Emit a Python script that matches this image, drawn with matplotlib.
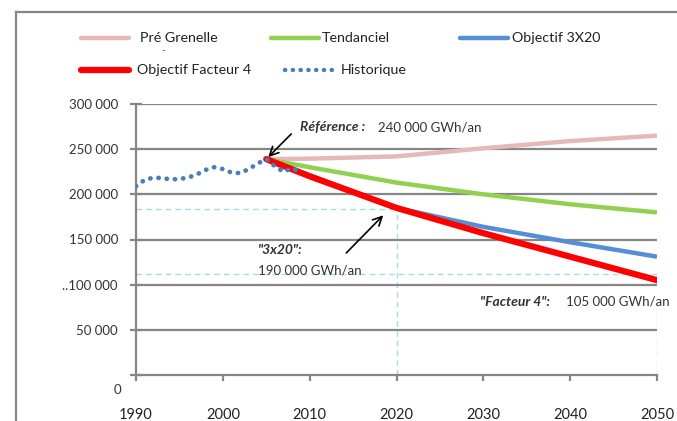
import matplotlib
matplotlib.use('Agg')
import matplotlib.pyplot as plt
from matplotlib.lines import Line2D

plt.rcParams['font.family'] = ['Lato', 'DejaVu Sans']

# historique (GWh/an)
hist_years = list(range(1990, 2010))
hist_vals = [209000, 216000, 218500, 218000, 216500, 217000, 218500, 222000, 227000, 230000,
             228000, 224000, 223500, 228000, 234000, 239000, 231000, 225000, 229000, 224000]

# scenarios
proj_years = [2005, 2010, 2020, 2030, 2040, 2050]
pre_grenelle = [239000, 239500, 242000, 251000, 259000, 265000]
tendanciel = [239000, 230000, 213000, 200000, 189000, 180000]
obj_3x20 = [239000, 221000, 185000, 164000, 147000, 131000]
facteur4 = [239000, 220000, 185000, 157000, 131000, 105000]

yticks = [0, 50000, 100000, 150000, 200000, 250000, 300000]
xticks = [1990, 2000, 2010, 2020, 2030, 2040, 2050]

W, H = 677, 421
fig = plt.figure(figsize=(W / 100, H / 100), dpi=100)
ax = fig.add_axes([136 / W, 1 - 375 / H, (657 - 136) / W, (375 - 104) / H])

grey = '#868686'
c_pink, c_green, c_blue, c_red, c_hist = '#E6B9B8', '#92D050', '#558ED5', '#FF0000', '#4A7EBB'
c_guide = '#A9D9E8'

# guides
ax.plot([1990, 2020], [184000, 184000], color=c_guide, lw=1, dashes=(4, 3), zorder=1)
ax.plot([2020, 2020], [0, 184000], color=c_guide, lw=1, dashes=(4, 3), zorder=1)
ax.plot([1990, 2050], [112000, 112000], color=c_guide, lw=1, dashes=(4, 3), zorder=1)
ax.plot([2050, 2050], [0, 90000], color=c_guide, lw=1, dashes=(4, 3), zorder=1)

for v in yticks[1:]:
    ax.axhline(v, color=grey, lw=1.6, zorder=2)

ax.plot(proj_years, pre_grenelle, color=c_pink, lw=3.2, solid_capstyle='butt', zorder=3)
ax.plot(proj_years, tendanciel, color=c_green, lw=3.2, solid_capstyle='butt', zorder=3)
ax.plot(proj_years, obj_3x20, color=c_blue, lw=3.2, solid_capstyle='butt', zorder=3)
ax.plot(proj_years, facteur4, color=c_red, lw=4.5, solid_capstyle='round', zorder=4)
ax.plot(hist_years, hist_vals, color=c_hist, lw=3.4, linestyle=(0, (0.05, 1.7)),
        dash_capstyle='round', zorder=5)

ax.set_xlim(1990, 2050)
ax.set_ylim(0, 300000)
ax.set_xticks(xticks)
ax.set_xticklabels([str(x) for x in xticks], fontsize=10.5, color='#222222')
ax.set_yticks(yticks)
ylabels = ['', '50 000', '..100 000', '150 000', '200 000', '250 000', '300 000']
ax.set_yticklabels(ylabels, fontsize=9.5, color='#333333')
ax.tick_params(axis='y', direction='inout', length=9, width=1.6, color=grey, pad=8.5)
ax.tick_params(axis='x', direction='out', length=4, width=1.6, color=grey, pad=20)
for s in ['top', 'right']:
    ax.spines[s].set_visible(False)
for s in ['left', 'bottom']:
    ax.spines[s].set_color(grey)
    ax.spines[s].set_linewidth(1.6)
ax.annotate('0', xy=(1990, 0), xytext=(-15, -9), textcoords='offset pixels',
            ha='right', va='top', fontsize=9.5, color='#333333', annotation_clip=False)

# annotations
ax.annotate('', xy=(2005, 239000), xytext=(2008.1, 269000),
            arrowprops=dict(arrowstyle='->', color='black', lw=1.2, mutation_scale=16), zorder=6)
ax.text(2008.9, 274500, 'Référence :', fontsize=10, fontweight='bold', fontstyle='italic',
        color='#333333', va='center')
ax.text(2017.9, 274500, '240 000 GWh/an', fontsize=9.5, color='#333333', va='center')

ax.annotate('', xy=(2018.7, 179000), xytext=(2014.0, 133000),
            arrowprops=dict(arrowstyle='->', color='black', lw=1.2, mutation_scale=16), zorder=6)
ax.text(2004.05, 138000, '"3x20":', fontsize=10, fontweight='bold', fontstyle='italic',
        color='#333333', va='center')
ax.text(2004.05, 116000, '190 000 GWh/an', fontsize=9.5, color='#333333', va='center')

ax.text(2029.6, 81000, '"Facteur 4":', fontsize=10, fontweight='bold', fontstyle='italic',
        color='#333333', va='center')
ax.text(2039.5, 81000, '105 000 GWh/an', fontsize=9.5, color='#333333', va='center',
        bbox=dict(facecolor='white', edgecolor='none', pad=0.5))

# outer frame
fig.add_artist(Line2D([16 / W, 16 / W], [0, 1 - 12 / H], color=grey, lw=1.6))
fig.add_artist(Line2D([16 / W, 1], [1 - 12 / H, 1 - 12 / H], color=grey, lw=1.6))

# legend
def leg(x0, y, color, label, tx, lw=3.2, ls='-'):
    kw = dict(color=color, lw=lw, solid_capstyle='round')
    if ls != '-':
        kw.update(linestyle=(0, (0.05, 1.7)), dash_capstyle='round')
    fig.add_artist(Line2D([x0 / W, (x0 + 48) / W], [1 - y / H, 1 - y / H], **kw))
    fig.text(tx / W, 1 - y / H, label, fontsize=10.3, color='#222222', va='center')

leg(81, 38, c_pink, 'Pré Grenelle', 140)
leg(271, 38, c_green, 'Tendanciel', 322)
leg(460, 38, c_blue, 'Objectif 3X20', 512)
leg(81, 70, c_red, 'Objectif Facteur 4', 137, lw=4.5)
leg(285, 70, c_hist, 'Historique', 341, ls=':')
fig.text(161 / W, 1 - 51 / H, '-', fontsize=7, color='#444444', va='center')

fig.savefig('out.png', dpi=100)
